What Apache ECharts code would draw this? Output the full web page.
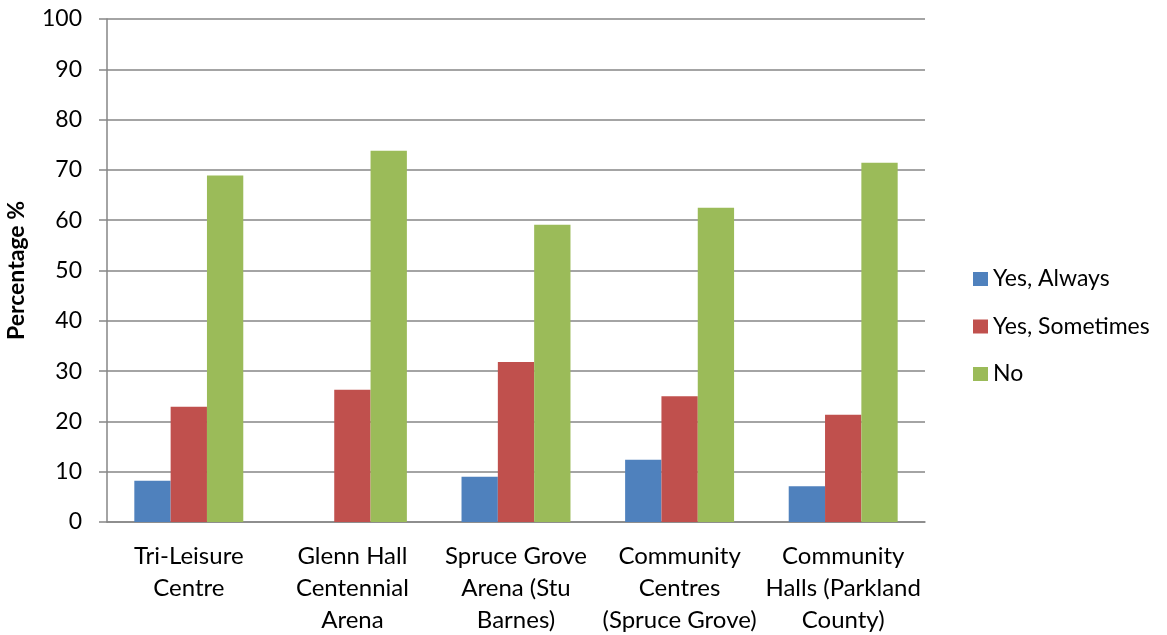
<!DOCTYPE html>
<html>
<head>
<meta charset="utf-8">
<script src="https://cdn.jsdelivr.net/npm/echarts@6/dist/echarts.min.js"></script>
<style>
  html, body { margin: 0; padding: 0; background: #fff; }
  #chart { width: 1167px; height: 635px; }
</style>
</head>
<body>
<div id="chart"></div>
<script>
// Facilities
const categories = [
  'Tri-Leisure\nCentre',
  'Glenn Hall\nCentennial\nArena',
  'Spruce Grove\nArena (Stu\nBarnes)',
  'Community\nCentres\n(Spruce Grove)',
  'Community\nHalls (Parkland\nCounty)'
];

// Response shares, percent
const yesAlways    = [8.2, 0, 9.0, 12.4, 7.1];
const yesSometimes = [22.9, 26.3, 31.8, 25.0, 21.3];
const no           = [68.9, 73.8, 59.1, 62.5, 71.4];

const seriesNames = ['Yes, Always', 'Yes, Sometimes', 'No'];
const colors = ['#4F81BD', '#C0504D', '#9BBB59'];
const font = 'Lato, "Open Sans", sans-serif';

const chart = echarts.init(document.getElementById('chart'));
const values = [yesAlways, yesSometimes, no];

chart.setOption({
  animation: false,
  textStyle: { fontFamily: font },
  grid: {
    left: 107, right: 242, top: 19, bottom: 113,
    containLabel: false,
    outerBoundsMode: 'none'
  },
  legend: {
    orient: 'vertical',
    left: 968,
    top: 262,
    itemWidth: 15,
    itemHeight: 14,
    itemGap: 23.5,
    icon: 'rect',
    textStyle: { fontSize: 23, lineHeight: 24, color: '#000', fontFamily: font },
    data: seriesNames
  },
  xAxis: {
    type: 'category',
    data: categories,
    axisLine: { lineStyle: { color: '#868686', width: 1.5 } },
    axisTick: { show: false },
    axisLabel: {
      fontSize: 24, color: '#000', lineHeight: 32, margin: 18,
      interval: 0, fontFamily: font
    }
  },
  yAxis: {
    type: 'value',
    min: 0, max: 100, interval: 10,
    name: 'Percentage %',
    nameLocation: 'middle',
    nameGap: 79,
    nameTextStyle: { fontSize: 23, fontWeight: 'bold', color: '#000', fontFamily: font },
    axisLine: { show: true, lineStyle: { color: '#868686', width: 1.5 } },
    axisTick: { show: true, length: 8, lineStyle: { color: '#868686', width: 1.5 } },
    axisLabel: { fontSize: 23, color: '#000', margin: 25, fontFamily: font },
    splitLine: { lineStyle: { color: '#868686', width: 1.5 } }
  },
  series: seriesNames.map((name, i) => ({
    name,
    type: 'bar',
    data: values[i],
    barGap: 0,
    barCategoryGap: '33.4%',
    itemStyle: { color: colors[i] }
  }))
});
</script>
</body>
</html>
